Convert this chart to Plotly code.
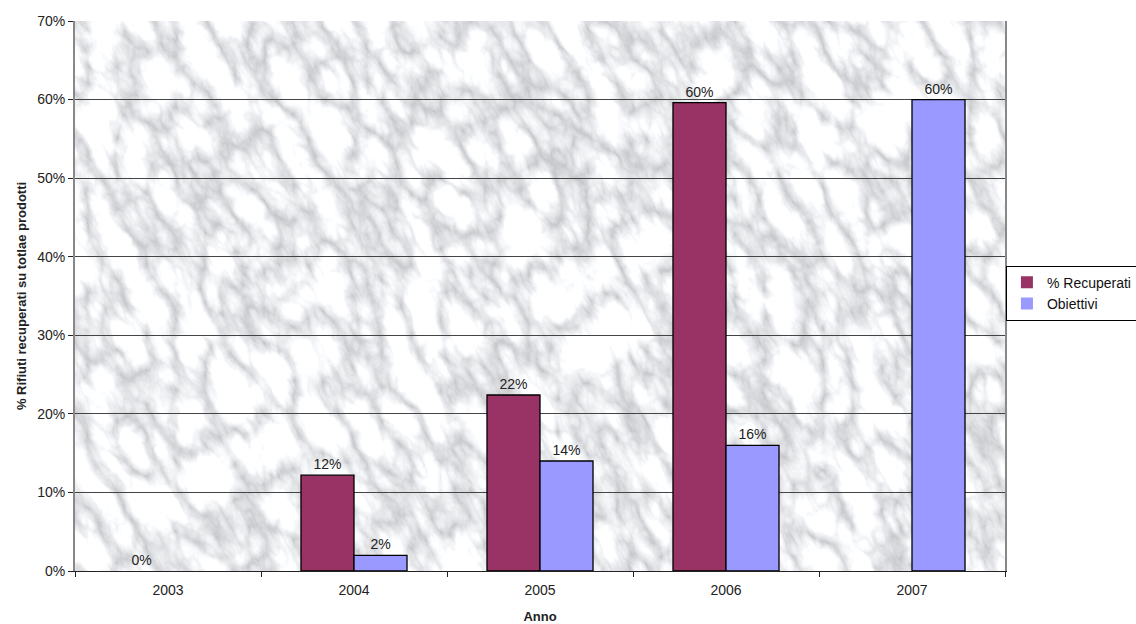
import plotly.graph_objects as go
import urllib.parse

years = ["2003", "2004", "2005", "2006", "2007"]
recuperati = [0.0, 0.122, 0.224, 0.596, None]
obiettivi = [None, 0.02, 0.14, 0.16, 0.60]

svg = (
    "<svg xmlns='http://www.w3.org/2000/svg' width='930' height='550'>"
    "<filter id='f'>"
    "<feTurbulence type='turbulence' baseFrequency='0.03 0.016' numOctaves='5' seed='4'/>"
    "<feColorMatrix type='matrix' values='"
    "1.1 0 0 0 0.52 "
    "1.1 0 0 0 0.53 "
    "1.1 0 0 0 0.55 "
    "0 0 0 0 1'/>"
    "</filter>"
    "<rect width='930' height='550' fill='#e6e6e8'/>"
    "<g transform='rotate(-28 465 275)'>"
    "<rect x='-300' y='-350' width='1530' height='1250' fill='white' filter='url(#f)'/>"
    "</g>"
    "</svg>"
)
src = "data:image/svg+xml;charset=utf-8," + urllib.parse.quote(svg)

font = "Liberation Sans, Arial, sans-serif"

def line_widths(vals):
    return [0 if (v is None or v == 0) else 1.3 for v in vals]

fig = go.Figure()
fig.add_trace(go.Bar(
    x=years, y=recuperati, name="% Recuperati",
    marker=dict(color="#993366", line=dict(color="black", width=line_widths(recuperati))),
    texttemplate="%{y:.0%}", textposition="outside",
    textfont=dict(family=font, size=14, color="#222"), cliponaxis=False,
))
fig.add_trace(go.Bar(
    x=years, y=obiettivi, name="Obiettivi",
    marker=dict(color="#9999FF", line=dict(color="black", width=line_widths(obiettivi))),
    texttemplate="%{y:.0%}", textposition="outside",
    textfont=dict(family=font, size=14, color="#222"), cliponaxis=False,
))

fig.add_layout_image(dict(
    source=src, xref="paper", yref="paper", x=0, y=1, sizex=1, sizey=1,
    xanchor="left", yanchor="top", sizing="stretch", layer="below",
))

fig.update_layout(
    width=1136, height=624,
    margin=dict(l=75, r=131, t=21, b=53, autoexpand=False),
    paper_bgcolor="white", plot_bgcolor="rgba(0,0,0,0)",
    barmode="group", bargap=0.43, bargroupgap=0,
    font=dict(family=font, size=14, color="#222"),
    legend=dict(
        x=1.001, y=0.505, xanchor="left", yanchor="middle",
        bordercolor="black", borderwidth=1, bgcolor="white",
        font=dict(family=font, size=14, color="#111"),
        tracegroupgap=0, itemwidth=30,
    ),
    xaxis=dict(
        type="category", automargin=False,
        title=dict(text="<b>Anno</b>", font=dict(size=13), standoff=24),
        ticks="outside", tickson="boundaries", ticklen=5, tickcolor="#222",
        ticklabelstandoff=6,
        showline=True, linecolor="#222", linewidth=1, mirror=False,
        showgrid=False, tickfont=dict(size=14),
    ),
    yaxis=dict(
        automargin=False,
        title=dict(text="<b>% Rifiuti recuperati su totlae prodotti</b>", font=dict(size=13), standoff=8),
        range=[0, 0.70], dtick=0.1, tickformat=".0%",
        ticks="outside", ticklen=5, tickcolor="#222",
        showline=True, linecolor="#888", linewidth=2, mirror=True,
        showgrid=True, gridcolor="#444", gridwidth=1, zeroline=False,
        tickfont=dict(size=14),
    ),
)

fig.write_html("out.html", config={"displayModeBar": False},
               post_script="document.body.style.margin='0';document.body.style.overflow='hidden';")
